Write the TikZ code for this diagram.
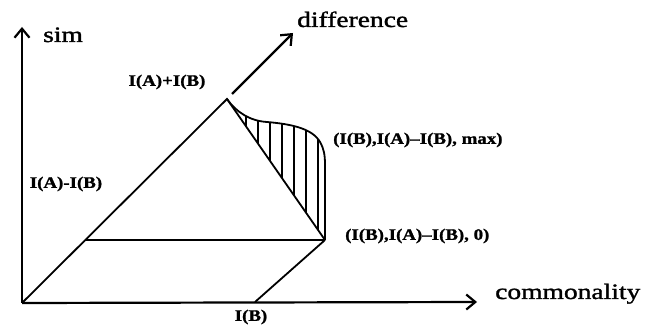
\documentclass[tikz,border=0pt]{standalone}
\usepackage{fontspec}
\setmainfont{Liberation Serif}
\newfontfamily\scanbig[FakeStretch=1.25,FakeBold=1.4]{Liberation Serif}
\newfontfamily\scansmall[FakeStretch=1.18,FakeBold=1.2]{Liberation Serif Bold}
\usepackage{tikz}
\usetikzlibrary{arrows.meta}

\tikzset{
  axis/.style={line width=2.2pt, -{Straight Barb[length=9pt,width=15pt,line width=2.2pt]}},
  edge/.style={line width=1.8pt},
  biglabel/.style={inner sep=0pt, font=\scanbig\fontsize{22}{24}\selectfont},
  smalllabel/.style={inner sep=0pt, font=\scansmall\fontsize{16}{18}\selectfont}
}

\begin{document}
\begin{tikzpicture}[x=1pt, y=-1pt]
  \useasboundingbox (0,0) rectangle (648,328);

  % Punti principali
  \coordinate (O) at (22,303);
  \coordinate (Ysim) at (22,27);
  \coordinate (Xcom) at (477,302);
  \coordinate (P) at (227,99);
  \coordinate (Q) at (325,240);
  \coordinate (M) at (85.3,240);
  \coordinate (IB) at (255,302);
  \coordinate (Dstart) at (232,94);
  \coordinate (Dend) at (293,33);

  % Zona tratteggiata
  \begin{scope}
    \clip (P) .. controls (236,112) and (250,121) .. (267,122)
      .. controls (290,124) and (312,128) .. (320,142)
      .. controls (324,149) and (325,155) .. (325,165) -- (Q) -- cycle;
    \foreach \hx in {246,258,...,318}
      \draw[line width=1.3pt] (\hx,90) -- (\hx,245);
  \end{scope}
  \draw[edge] (P) .. controls (236,112) and (250,121) .. (267,122)
    .. controls (290,124) and (312,128) .. (320,142)
    .. controls (324,149) and (325,155) .. (325,165) -- (Q);

  % Assi
  \draw[axis] (O) -- (Ysim);
  \draw[axis] (O) -- (Xcom);
  \draw[axis] (Dstart) -- (Dend);

  % Lati
  \draw[edge] (O) -- (P) -- (Q);
  \draw[edge] (M) -- (Q);
  \draw[edge] (Q) -- (IB);

  % Etichette assi
  \node[biglabel, anchor=base west] (sim) at (43,42) {sim};
  \node[biglabel, anchor=base west] (diff) at (297,27) {difference};
  \node[biglabel, anchor=base west] (com) at (495,299) {commonality};

  % Etichette punti
  \node[smalllabel] (sum) at (167,82) {I(A)+I(B)};
  \node[smalllabel] (dif) at (66,184) {I(A)-I(B)};
  \node[smalllabel] (ib) at (251,317) {I(B)};
  \node[smalllabel, anchor=west] (tmax) at (333,140) {(I(B),I(A)–I(B), max)};
  \node[smalllabel, anchor=west] (tzero) at (345,236) {(I(B),I(A)–I(B), 0)};
\end{tikzpicture}
\end{document}
